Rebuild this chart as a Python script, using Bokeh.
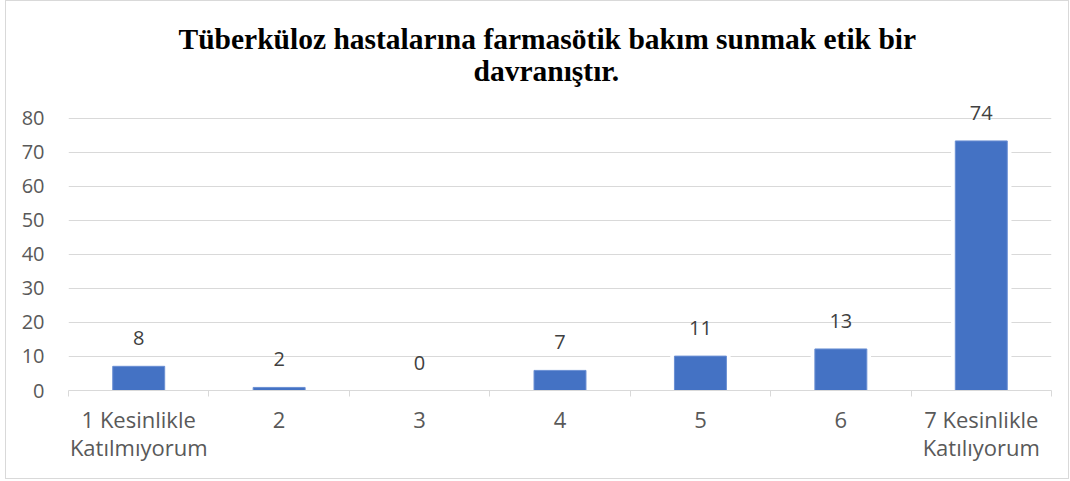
from bokeh.plotting import figure
from bokeh.models import FixedTicker, Title, ColumnDataSource
from bokeh.core.properties import value
from bokeh.embed import file_html
from bokeh.resources import INLINE

categories = ["1 Kesinlikle\nKatılmıyorum", "2", "3", "4", "5", "6", "7 Kesinlikle\nKatılıyorum"]
bar_values = [7.1, 0.9, 0.0, 5.9, 10.1, 12.2, 73.3]
label_texts = ["8", "2", "0", "7", "11", "13", "74"]
y_ticks = [0, 10, 20, 30, 40, 50, 60, 70, 80]
title_lines = ["Tüberküloz hastalarına farmasötik bakım sunmak etik bir", "davranıştır."]

positions = list(range(1, len(categories) + 1))
source = ColumnDataSource(dict(x=positions, top=bar_values, label=label_texts))

p = figure(width=1064, height=479, output_backend="svg", toolbar_location=None,
           x_range=(0.5, 7.5), y_range=(0, 84), title=None,
           min_border_left=62, min_border_right=19, min_border_top=103, min_border_bottom=90)
p.styles = {"border": "1px solid #d9d9d9", "box-sizing": "border-box", "margin-left": "5px"}
p.outline_line_color = None
p.background_fill_color = "white"
p.border_fill_color = "white"

# two-line title: closest-to-frame first
t2 = Title(text=title_lines[1], align="left", text_font="Liberation Serif",
           text_font_style="bold", text_font_size="29.5px", text_color="black",
           standoff=36, offset=405, text_line_height=0.8)
t1 = Title(text=title_lines[0], align="left", text_font="Liberation Serif",
           text_font_style="bold", text_font_size="29.5px", text_color="black",
           standoff=-40, offset=110, text_line_height=0.8)
p.add_layout(t2, "above")
p.add_layout(t1, "above")

# grid
p.xgrid.grid_line_color = None
p.ygrid.grid_line_color = "#d9d9d9"
p.ygrid.grid_line_width = 1
p.yaxis.ticker = FixedTicker(ticks=y_ticks)

# white halo behind bars, then bars
p.vbar(x="x", top="top", bottom=0, width=0.43, source=source,
       fill_color="white", line_color=None)
p.vbar(x="x", top="top", bottom=0, width=0.37, source=source,
       fill_color="#4472C4", line_color="#6a8fd3", line_width=1)

p.text(x="x", y="top", text="label", source=source, text_align="center",
       text_baseline="alphabetic", y_offset=-28, text_font=value("Open Sans"),
       text_font_size="20px", text_color="#404040")

# x axis
xa = p.xaxis[0]
xa.ticker = FixedTicker(ticks=positions, minor_ticks=[i + 0.5 for i in range(0, len(categories) + 1)])
xa.major_label_overrides = {pos: cat for pos, cat in zip(positions, categories)}
xa.major_tick_line_color = None
xa.minor_tick_in = 0
xa.minor_tick_out = 6
xa.minor_tick_line_color = "#d9d9d9"
xa.axis_line_color = "#d9d9d9"
xa.major_label_text_font = "Open Sans"
xa.major_label_text_font_size = "22px"
xa.major_label_text_color = "#595959"
xa.major_label_standoff = 7
xa.major_label_text_line_height = 0.95

ya = p.yaxis[0]
ya.axis_line_color = None
ya.major_tick_line_color = None
ya.minor_tick_line_color = None
ya.major_label_text_font = "Open Sans"
ya.major_label_text_font_size = "20px"
ya.major_label_text_color = "#595959"
ya.major_label_standoff = 18

open("out.html", "w").write(file_html(p, INLINE))
